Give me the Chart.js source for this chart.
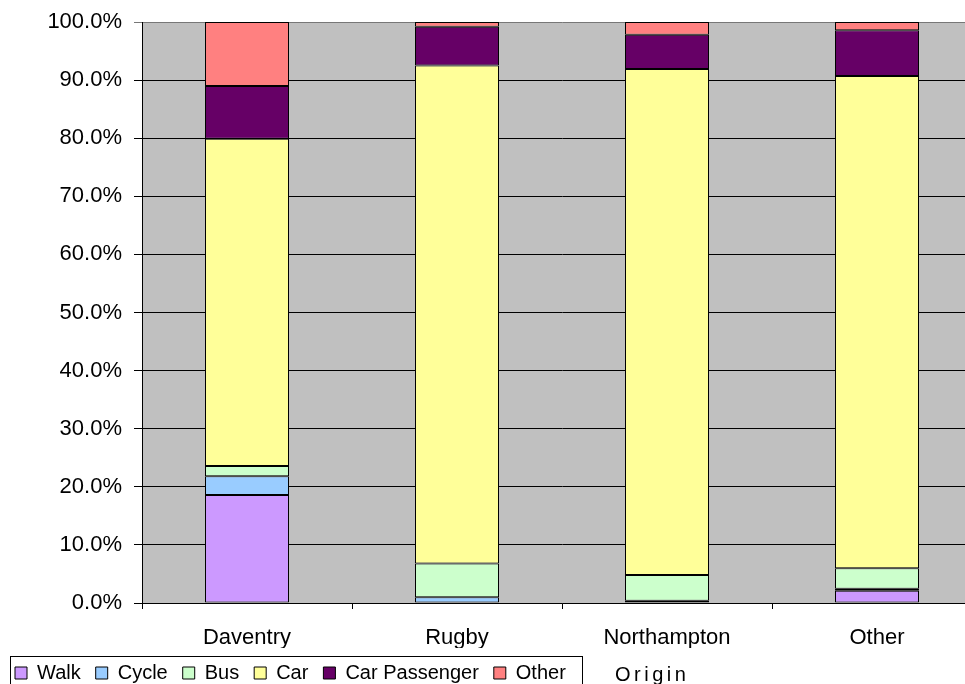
<!DOCTYPE html>
<html>
<head>
<meta charset="utf-8">
<script src="https://cdn.jsdelivr.net/npm/chart.js@4"></script>
<style>
  html, body { margin: 0; padding: 0; background: #fff; overflow: hidden; }
  #wrap { position: relative; width: 965px; height: 684px; overflow: hidden; }
  #c { position: absolute; left: 0; top: 0; }
  #xtitle { position: absolute; left: 615px; top: 662px; font: 20px "Liberation Sans", Arial, sans-serif; letter-spacing: 3.5px; color: #000; line-height: 24px; }
</style>
</head>
<body>
<div id="wrap">
  <canvas id="c" width="1000" height="693"></canvas>
  <div id="xtitle">Origin</div>
</div>
<script>
const categories = ['Daventry', 'Rugby', 'Northampton', 'Other'];
const walk = [18.6, 0, 0, 2.1];
const cycle = [3.2, 1.0, 0.4, 0.35];
const bus = [1.8, 5.8, 4.4, 3.55];
const car = [56.3, 85.7, 87.1, 84.7];
const carPassenger = [9.1, 6.7, 5.9, 7.9];
const otherMode = [11.0, 0.8, 2.2, 1.4];
const yTicks = [0, 10, 20, 30, 40, 50, 60, 70, 80, 90, 100];

const FONT = '"Liberation Sans", Arial, sans-serif';

function ds(label, data, color) {
  return { label, data, backgroundColor: color, borderColor: '#000', borderWidth: 1,
           borderSkipped: false, barPercentage: 0.4, categoryPercentage: 1.0 };
}

const plotBg = {
  id: 'plotBg',
  beforeDraw(chart) {
    const a = chart.chartArea, ctx = chart.ctx;
    ctx.save();
    ctx.fillStyle = '#C0C0C0';
    ctx.fillRect(a.left, a.top, a.right - a.left, a.bottom - a.top);
    ctx.restore();
  }
};

const legendFrame = {
  id: 'legendFrame',
  afterDraw(chart) {
    const lg = chart.legend;
    if (!lg || !lg.legendHitBoxes || !lg.legendHitBoxes.length) return;
    const hb = lg.legendHitBoxes;
    const first = hb[0], last = hb[hb.length - 1];
    const left = Math.round(first.left - 5) + 0.5;
    const right = Math.round(last.left + last.width + 16) + 0.5;
    const top = Math.round(first.top + first.height / 2 - 17) + 0.5;
    const ctx = chart.ctx;
    ctx.save();
    ctx.strokeStyle = '#000';
    ctx.lineWidth = 1;
    ctx.strokeRect(left, top, right - left, 60);
    ctx.restore();
  }
};

new Chart(document.getElementById('c'), {
  type: 'bar',
  data: {
    labels: categories,
    datasets: [
      ds('Walk', walk, '#CC99FF'),
      ds('Cycle', cycle, '#99CCFF'),
      ds('Bus', bus, '#CCFFCC'),
      ds('Car', car, '#FFFF99'),
      ds('Car Passenger', carPassenger, '#660066'),
      ds('Other', otherMode, '#FF8080')
    ]
  },
  options: {
    responsive: false,
    devicePixelRatio: 1,
    animation: false,
    layout: { padding: { top: 22, right: 18, bottom: 0, left: 0 } },
    plugins: {
      tooltip: { enabled: false },
      legend: {
        display: true,
        position: 'bottom',
        align: 'start',
        labels: {
          boxWidth: 12, boxHeight: 12, padding: 15, color: '#000',
          font: { family: FONT, size: 20 }
        }
      }
    },
    scales: {
      x: {
        stacked: true,
        offset: true,
        afterFit(s) { s.height = 45; },
        grid: { offset: true, drawOnChartArea: false, drawTicks: true, tickLength: 6, color: '#000', lineWidth: 1 },
        border: { display: true, color: '#000', width: 1 },
        ticks: { color: '#000', padding: 16, maxRotation: 0, font: { family: FONT, size: 22 } }
      },
      y: {
        stacked: true,
        min: 0, max: 100,
        afterFit(s) { s.width = 142; s.paddingTop = 0; s.paddingBottom = 0; },
        afterBuildTicks(s) { s.ticks = yTicks.map(v => ({ value: v })); },
        grid: { drawTicks: true, tickLength: 8, lineWidth: 1,
                color: (c) => (c.tick && c.tick.value === 100) ? '#777' : '#000' },
        border: { display: true, color: '#000', width: 1 },
        ticks: { color: '#000', padding: 12, font: { family: FONT, size: 22 },
                 callback: (v) => Number(v).toFixed(1) + '%' }
      }
    }
  },
  plugins: [plotBg, legendFrame]
});
</script>
</body>
</html>
